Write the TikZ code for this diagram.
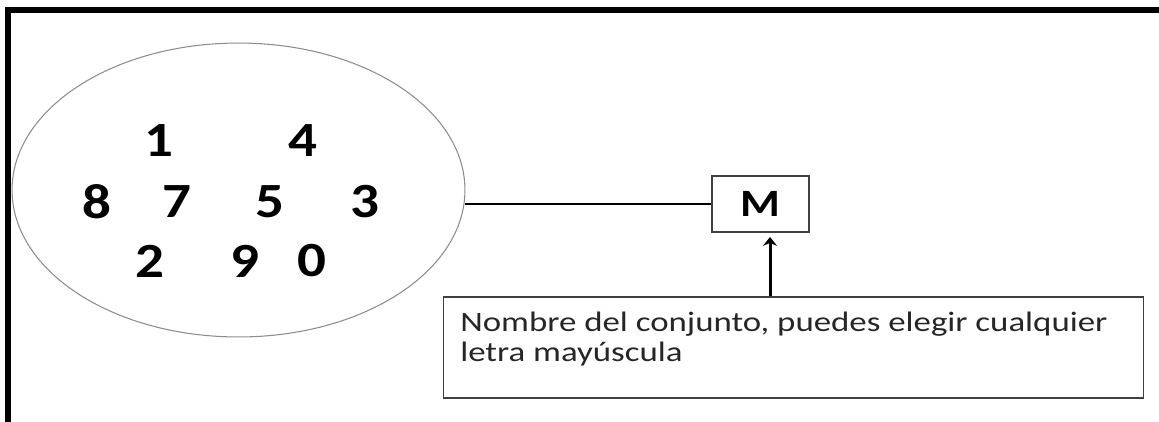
\documentclass[tikz,border=0pt]{standalone}
\usepackage{fontspec}
\setmainfont{Carlito}
\usepackage{graphicx}
\usepackage{tikz}
\usetikzlibrary{arrows.meta, positioning, shapes.geometric}

\begin{document}
\begin{tikzpicture}[x=0.02cm, y=-0.02cm, >=Stealth,
  digit/.style={font=\fontsize{28}{30}\selectfont\bfseries, inner sep=0pt},
  box/.style={draw=black!75, line width=0.6pt, rectangle}]
\useasboundingbox (0,0) rectangle (1159,422);

% Frame (top and left edges only)
\draw[line width=3pt] (8,422) -- (8,10) -- (1159,10);

% Set of digits
\node[ellipse, draw=black!45, line width=0.6pt, minimum width=9.06cm, minimum height=5.88cm, inner sep=0pt] (set) at (238.5,190) {};
\foreach \n/\x/\y in {1/159/141, 4/303/141, 8/97/202, 7/177/202, 5/270/202,
                      3/365/202, 2/150/261, 9/245/261, 0/312/261} {
    \node[digit] (d\n) at (\x,\y) {\scalebox{1.16}[1]{\n}};
}

% Set name
\node[box, minimum width=1.94cm, minimum height=1.12cm, font=\fontsize{22}{24}\selectfont\bfseries] (M) at (760.5,204) {\scalebox{1.18}[1]{M}};
\draw[line width=1.6pt] (set.east |- M.west) -- (M.west);

% Note
\node[box, inner xsep=0.34cm, inner ysep=0.3cm, text=black!85, font=\fontsize{16}{17}\selectfont] (note) at (793.5,347.5)
    {\scalebox{1.24}[1]{\parbox[c][1.42cm][t]{10.75cm}{\raggedright Nombre del conjunto, puedes elegir cualquier\\ letra mayúscula}}};
\coordinate (tip) at (770,237);
\draw[-{Stealth[length=5pt, width=8pt]}, line width=1.7pt] (note.north -| tip) -- (tip);

\end{tikzpicture}
\end{document}
